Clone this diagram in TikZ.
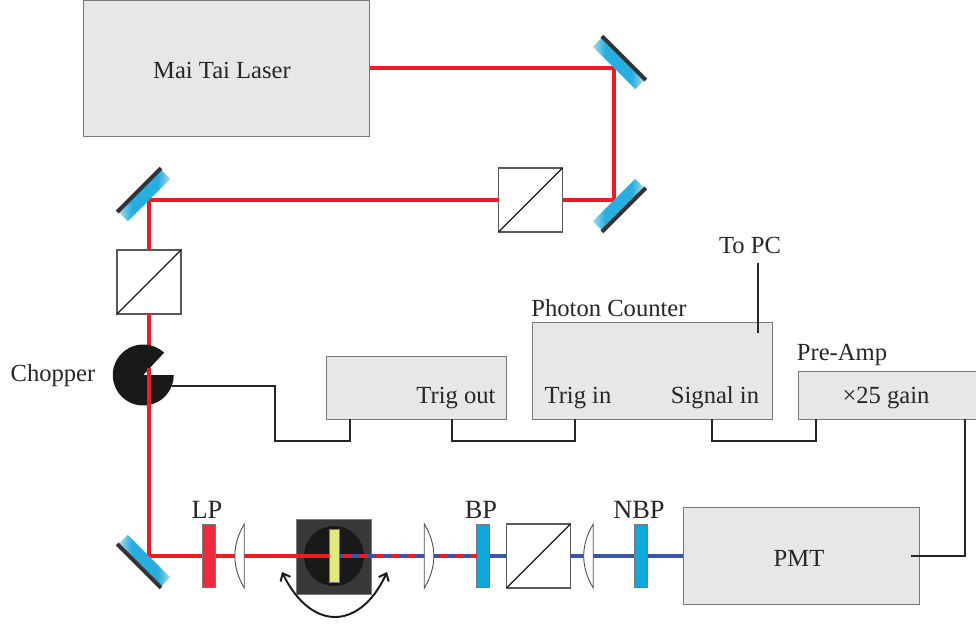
\documentclass[tikz,border=0pt]{standalone}
\usepackage{fontspec}
\setmainfont{Liberation Serif}
\usetikzlibrary{arrows.meta}
\definecolor{BeamRed}{HTML}{ED1C24}
\definecolor{BeamBlue}{HTML}{3B54A4}
\definecolor{BoxGray}{HTML}{E6E7E8}
\definecolor{EdgeGray}{HTML}{77787B}
\definecolor{MirrorBlue}{HTML}{27AEDF}
\definecolor{MirrorPale}{HTML}{A9D9EA}
\definecolor{FilterBlue}{HTML}{0FA8DC}
\definecolor{FilterRed}{HTML}{EE2A3C}
\definecolor{MountGray}{HTML}{3B3838}
\definecolor{PlateYellow}{HTML}{E3E97C}
\pgfdeclarehorizontalshading{mirrorshade}{100bp}{color(0bp)=(MirrorPale); color(25bp)=(MirrorPale); color(37bp)=(MirrorBlue); color(63bp)=(MirrorBlue); color(75bp)=(MirrorPale); color(100bp)=(MirrorPale)}
\tikzset{
  lbl/.style={font=\fontsize{14}{16}\selectfont,text=black!85,inner sep=0pt},
  biglbl/.style={font=\fontsize{15}{17}\selectfont,text=black!85,inner sep=0pt},
  box/.style={draw=EdgeGray,line width=0.55pt,fill=BoxGray,inner sep=0pt,outer sep=0pt},
  cube/.style={draw=black!65,line width=0.6pt,fill=white,inner sep=0pt,outer sep=0pt,minimum size=1.28cm},
  filter/.style={draw=EdgeGray,line width=0.3pt,inner sep=0pt,outer sep=0pt,minimum width=0.25cm,minimum height=1.26cm},
  mirror/.style={shading=mirrorshade,inner sep=0pt,outer sep=0pt,minimum width=1.2cm,minimum height=0.24cm,anchor=south},
  mirrorback/.style={fill=black!80,inner sep=0pt,outer sep=0pt,minimum width=1.24cm,minimum height=0.08cm,anchor=south},
  beam/.style={line width=2.3pt,BeamRed},
  bluebeam/.style={line width=2.3pt,BeamBlue},
  wire/.style={line width=1.1pt,black!85},
  lens/.style={draw=black!70,line width=0.5pt,fill=white},
}
\begin{document}
\begin{tikzpicture}[x=0.02cm,y=-0.02cm]
        \useasboundingbox (0,0) rectangle (976,625);

        \draw (226.5,68) node (laser) [box,minimum width=5.74cm,minimum height=2.72cm] {};
        \draw (416,387.5) node (trigbox) [box,minimum width=3.6cm,minimum height=1.26cm] {};
        \draw (652,370.5) node (counter) [box,minimum width=4.8cm,minimum height=1.94cm] {};
        \draw (887.5,395) node (preamp) [box,minimum width=3.58cm,minimum height=0.96cm] {};
        \draw (801,556) node (pmt) [box,minimum width=4.72cm,minimum height=1.94cm] {};

        \draw (530.5,200) node (cubeA) [cube] {};
        \draw (149,282) node (cubeB) [cube] {};
        \draw (538.5,556) node (cubeC) [cube] {};
        \foreach \c in {cubeA,cubeB,cubeC}
            \draw[line width=0.7pt,black!90] (\c.south west)--(\c.north east);

        \coordinate (hitA) at (614,68);
        \coordinate (hitB) at (614,200);
        \coordinate (hitC) at (149,200);
        \coordinate (hitD) at (149,556);
        \coordinate (chopin) at (149,368);
        \coordinate (chopmid) at (149,350);
        \coordinate (dashstart) at (343.7,556);

        \draw (334,556.3) node (mount) [fill=MountGray,draw=EdgeGray,line width=0.3pt,inner sep=0pt,minimum size=1.5cm] {};
        \draw (334,556) node (disc) [circle,fill=black!90,inner sep=0pt,minimum size=1.2cm] {};

        \draw[beam] (laser.east)--(hitA)--(hitB)--(cubeA.east);
        \draw[beam] (cubeA.west)--(hitC)--(cubeB.north);
        \draw[beam] (cubeB.south)--(chopmid);

        \fill[black!90] (143.3,375) -- ++(-47:30.5) arc[start angle=-47,end angle=-360,radius=30.5] -- cycle;
        \draw[beam] (chopin)--(hitD)--(disc.center);

        \draw (334.3,556) node (plate) [draw=EdgeGray,line width=0.3pt,fill=PlateYellow,inner sep=0pt,minimum width=0.21cm,minimum height=1.07cm] {};
        \draw[bluebeam] (plate.east)--(cubeC.west);
        \draw[bluebeam] (cubeC.east)--(pmt.west);
        \draw (483,556) node (bpfilter) [filter,fill=FilterBlue] {};
        \draw (640.7,556) node (nbpfilter) [filter,fill=FilterBlue] {};
        \draw[line width=2.3pt,BeamRed,dash pattern=on 0.16cm off 0.16cm] (dashstart)--(bpfilter.west);
        \draw (208.7,556) node (lpfilter) [filter,fill=FilterRed] {};

        \foreach \fx/\bx in {244.3/231.7,424.3/437,593.3/580.5}
            \draw[lens] (\fx,524) .. controls (\bx,545) and (\bx,567) .. (\fx,588) -- cycle;

        \foreach \h/\r/\n in {hitA/-45/A,hitB/-135/B,hitC/45/C,hitD/135/D} {
            \draw (\h) node (mirror\n) [mirror,rotate=\r] {};
            \draw (mirror\n.north) node (back\n) [mirrorback,rotate=\r] {};
        }

        \draw[line width=1.1pt,black!90,{Straight Barb[length=1.3mm,width=2.2mm]}-{Straight Barb[length=1.3mm,width=2.2mm]}] (282,572) .. controls (298,605) and (318,617) .. (335,617) .. controls (352,617) and (372,605) .. (387,572);

        \coordinate (chopout) at (172,386);
        \coordinate (trigboxin) at (350,419);
        \coordinate (trigboxout) at (452,419);
        \coordinate (counterin) at (575,419);
        \coordinate (countersig) at (712,419);
        \coordinate (preampin) at (816,419);
        \coordinate (preampout) at (965,419);
        \coordinate (pmtout) at (911,556);
        \coordinate (pcend) at (758,263);
        \coordinate (pcstart) at (758,333);

        \draw[wire] (chopout)--(275,386)--(275,441)--(350,441)--(trigboxin);
        \draw[wire] (trigboxout)--(452,441)--(575,441)--(counterin);
        \draw[wire] (countersig)--(712,441)--(816,441)--(preampin);
        \draw[wire] (preampout)--(965,556)--(pmtout);
        \draw[wire] (pcstart)--(pcend);

        \draw (222,70) node (lasertext) [lbl] {Mai Tai Laser};
        \draw (53,376) node (choppertext) [lbl] {Chopper};
        \draw (207,510) node (lptext) [biglbl] {LP};
        \draw (481,510) node (bptext) [biglbl] {BP};
        \draw (639,510) node (nbptext) [biglbl] {NBP};
        \draw (799,558) node (pmttext) [lbl] {PMT};
        \draw (842,355) node (preamptext) [lbl] {Pre-Amp};
        \draw (886,398) node (gaintext) [lbl] {×25 gain};
        \draw (715,398) node (signaltext) [lbl] {Signal in};
        \draw (578,398) node (trigintext) [lbl] {Trig in};
        \draw (456,398) node (trigouttext) [lbl] {Trig out};
        \draw (609,308) node (countertext) [lbl] {Photon Counter};
        \draw (750,245) node (pctext) [lbl] {To PC};
\end{tikzpicture}
\end{document}
